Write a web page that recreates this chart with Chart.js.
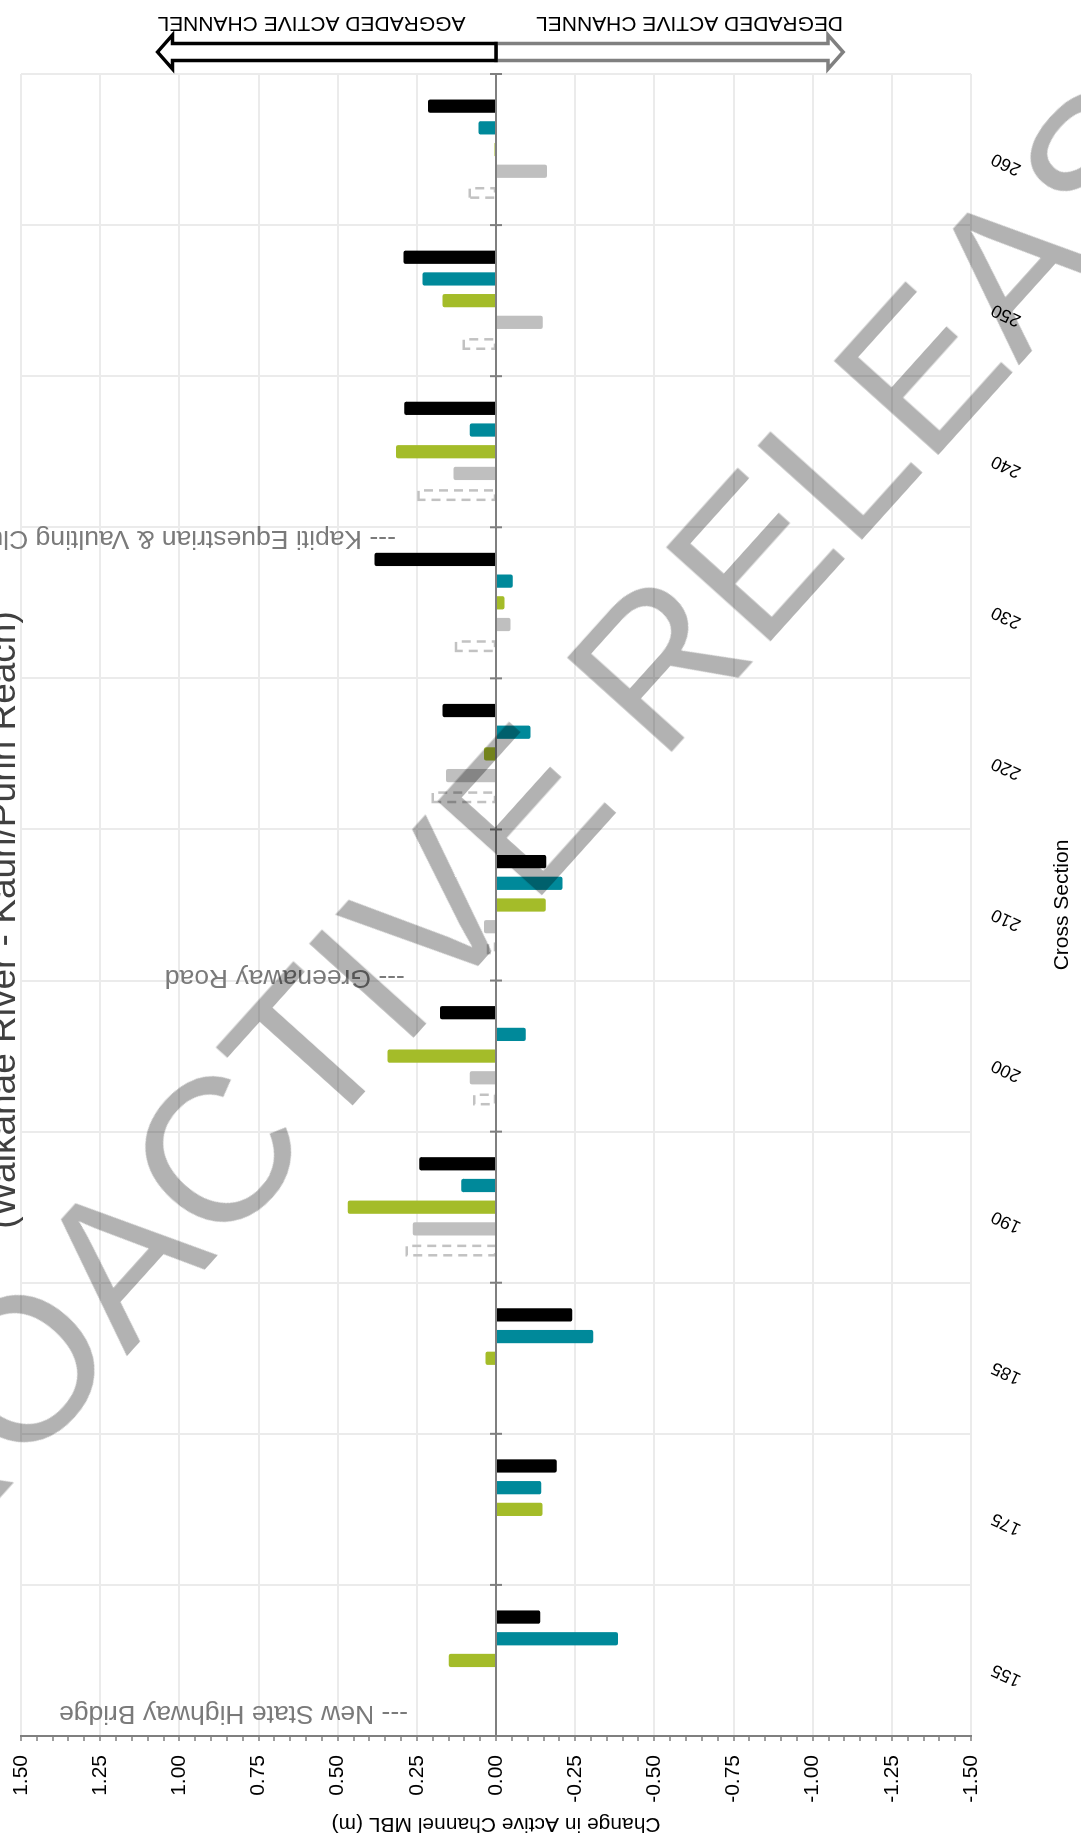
<!DOCTYPE html>
<html>
<head>
<meta charset="utf-8">
<script src="https://cdn.jsdelivr.net/npm/chart.js@4.4.1/dist/chart.umd.min.js"></script>
<style>
html, body { margin: 0; padding: 0; background: #ffffff; overflow: hidden; width: 1081px; height: 1840px; }
#wrap { position: absolute; left: 0; top: 0; width: 1840px; height: 1081px; transform-origin: 0 0; transform: translate(0px, 1840px) rotate(-90deg); }
canvas { display: block; }
#mark { position: absolute; left: 508px; top: 826px; transform: translate(-50%, -50%) rotate(-48deg); font-family: 'Liberation Sans', Arial, sans-serif; font-weight: normal; font-size: 205px; line-height: 1; white-space: nowrap; color: rgba(0, 0, 0, 0.3); pointer-events: none; }
</style>
</head>
<body>
<div id="wrap"><canvas id="c" width="1840" height="1081"></canvas></div>
<div id="mark">PROACTIVE RELEASE</div>
<script>
// ---- data ----
const crossSections = ['155', '175', '185', '190', '200', '210', '220', '230', '240', '250', '260'];
const seriesDashed = [null, null, null, 0.282, 0.069, 0.025, 0.200, 0.126, 0.245, 0.102, 0.083];
const seriesGray   = [null, null, null, 0.263, 0.083, 0.038, 0.158, -0.046, 0.134, -0.148, -0.161];
const seriesGreen  = [0.149, -0.147, 0.033, 0.468, 0.343, -0.157, 0.038, -0.027, 0.316, 0.169, 0.005];
const seriesTeal   = [-0.385, -0.143, -0.307, 0.110, -0.094, -0.210, -0.109, -0.053, 0.083, 0.232, 0.055];
const seriesBlack  = [-0.140, -0.192, -0.241, 0.242, 0.177, -0.159, 0.169, 0.384, 0.290, 0.292, 0.215];
const chartTitle = '(Waikanae River - Kauri/Puriri Reach)';
const landmarkLabels = ['--- New State Highway Bridge', '--- Greenaway Road', '--- Kapiti Equestrian & Vaulting Club'];
const landmarkAt = [-0.35, 4.52, 7.43];        // position along the cross-section axis (category units)
const landmarkFrom = [0.278, 0.288, 0.316];    // value where the label starts
const arrowAggradedTo = 1.069;
const arrowDegradedTo = -1.096;

const FONT = "'Liberation Sans', Arial, Helvetica, sans-serif";

function isMajor(v) {
  const k = Math.round(v * 100);
  return Math.abs(k) % 25 === 0;
}

const overlay = {
  id: 'overlay',
  afterDatasetsDraw(chart) {
    const { ctx, chartArea } = chart;
    const x = chart.scales.x, y = chart.scales.y;
    // dashed outline bars
    const meta = chart.getDatasetMeta(0);
    ctx.save();
    ctx.strokeStyle = '#c2c2c2';
    ctx.lineWidth = 2.5;
    ctx.setLineDash([9, 6]);
    meta.data.forEach((bar, i) => {
      if (seriesDashed[i] == null) return;
      const p = bar.getProps(['x', 'y', 'base', 'width'], true);
      const inset = 1.9;
      const l = p.x - p.width / 2 + inset, r = p.x + p.width / 2 - inset;
      const t = Math.min(p.y, p.base), b = Math.max(p.y, p.base);
      ctx.strokeRect(l, t, r - l, b - t);
    });
    ctx.restore();
    // zero line with crossing category ticks
    const y0 = y.getPixelForValue(0);
    ctx.save();
    ctx.strokeStyle = '#7f7f7f';
    ctx.lineWidth = 2;
    ctx.beginPath();
    ctx.moveTo(chartArea.left, y0);
    ctx.lineTo(chartArea.right, y0);
    ctx.stroke();
    for (let i = 0; i <= crossSections.length; i++) {
      const px = x.getPixelForValue(i - 0.5);
      ctx.beginPath();
      ctx.moveTo(px, y0 - 6);
      ctx.lineTo(px, y0 + 6);
      ctx.stroke();
    }
    ctx.restore();
  },
  afterDraw(chart) {
    const { ctx, chartArea } = chart;
    const x = chart.scales.x, y = chart.scales.y;
    // title (partly cut off at the page edge, as in the reference)
    ctx.save();
    ctx.font = '37px ' + FONT;
    ctx.fillStyle = '#404040';
    ctx.textAlign = 'center';
    ctx.textBaseline = 'alphabetic';
    ctx.fillText(chartTitle, chart.width / 2, 15);
    ctx.restore();
    // landmark labels
    landmarkLabels.forEach((txt, i) => {
      const px = x.getPixelForValue(landmarkAt[i]);
      const py = y.getPixelForValue(landmarkFrom[i]);
      ctx.save();
      ctx.translate(px, py);
      ctx.rotate(-Math.PI / 2);
      ctx.font = '26.5px ' + FONT;
      ctx.fillStyle = '#7a7a7a';
      ctx.textAlign = 'left';
      ctx.textBaseline = 'middle';
      ctx.fillText(txt, 0, 0);
      ctx.restore();
    });
    // arrows
    const cx = chartArea.right + 22;
    const y0 = y.getPixelForValue(0);
    function arrow(tipVal, color) {
      const yt = y.getPixelForValue(tipVal);
      const s = Math.sign(yt - y0);
      const hw = 8.5, hh = 17, hl = 15;
      const hb = yt - s * hl;
      ctx.save();
      ctx.beginPath();
      ctx.moveTo(cx - hw, y0);
      ctx.lineTo(cx - hw, hb);
      ctx.lineTo(cx - hh, hb);
      ctx.lineTo(cx, yt);
      ctx.lineTo(cx + hh, hb);
      ctx.lineTo(cx + hw, hb);
      ctx.lineTo(cx + hw, y0);
      ctx.closePath();
      ctx.fillStyle = '#ffffff';
      ctx.fill();
      ctx.strokeStyle = color;
      ctx.lineWidth = 3.5;
      ctx.lineJoin = 'miter';
      ctx.stroke();
      ctx.restore();
    }
    arrow(arrowDegradedTo, '#808080');
    arrow(arrowAggradedTo, '#000000');
    const tx = chartArea.right + 51;
    ctx.save();
    ctx.font = '21px ' + FONT;
    ctx.fillStyle = '#000000';
    ctx.textBaseline = 'middle';
    ctx.translate(tx, y.getPixelForValue(arrowAggradedTo));
    ctx.rotate(-Math.PI / 2);
    ctx.textAlign = 'right';
    ctx.fillText('AGGRADED ACTIVE CHANNEL', 0, 0);
    ctx.restore();
    ctx.save();
    ctx.font = '21px ' + FONT;
    ctx.fillStyle = '#000000';
    ctx.textBaseline = 'middle';
    ctx.translate(tx, y.getPixelForValue(arrowDegradedTo));
    ctx.rotate(-Math.PI / 2);
    ctx.textAlign = 'left';
    ctx.fillText('DEGRADED ACTIVE CHANNEL', 0, 0);
    ctx.restore();
  }
};

const barCommon = { categoryPercentage: 0.718, barPercentage: 0.61, borderRadius: 2, borderWidth: 0 };

new Chart(document.getElementById('c'), {
  type: 'bar',
  data: {
    labels: crossSections,
    datasets: [
      Object.assign({ label: 'Series 1', data: seriesDashed, backgroundColor: 'rgba(0,0,0,0)' }, barCommon),
      Object.assign({ label: 'Series 2', data: seriesGray, backgroundColor: '#bfbfbf' }, barCommon),
      Object.assign({ label: 'Series 3', data: seriesGreen, backgroundColor: '#a4bc29' }, barCommon),
      Object.assign({ label: 'Series 4', data: seriesTeal, backgroundColor: '#00899a' }, barCommon),
      Object.assign({ label: 'Series 5', data: seriesBlack, backgroundColor: '#000000' }, barCommon)
    ]
  },
  options: {
    responsive: false,
    animation: false,
    devicePixelRatio: 1,
    layout: { padding: { top: 21, right: 74, left: 0, bottom: 0 } },
    plugins: { legend: { display: false }, title: { display: false }, tooltip: { enabled: false } },
    scales: {
      x: {
        afterFit(s) { s.height = 110; },
        ticks: { minRotation: 65, maxRotation: 65, padding: 17, labelOffset: -8, color: '#000000', autoSkip: false, font: { size: 18, family: FONT } },
        grid: { offset: true, color: '#ebebeb', lineWidth: 2, drawTicks: false },
        border: { display: false },
        title: { display: true, text: 'Cross Section', color: '#000000', font: { size: 21, family: FONT }, padding: { top: 0, bottom: 6 } }
      },
      y: {
        min: -1.5,
        max: 1.5,
        afterFit(s) { s.width = 104; s.paddingTop = 0; s.paddingBottom = 0; },
        ticks: {
          stepSize: 0.05,
          autoSkip: false,
          padding: 14,
          color: '#000000',
          font: { size: 21, family: FONT },
          callback: (v) => isMajor(v) ? Number(v).toFixed(2) : ''
        },
        grid: {
          color: (c) => (c.tick && isMajor(c.tick.value)) ? '#ebebeb' : 'rgba(0,0,0,0)',
          lineWidth: 2,
          tickColor: '#7f7f7f',
          tickLength: 5,
          tickWidth: 1.5
        },
        border: { color: '#7f7f7f', width: 2 },
        title: { display: true, text: 'Change in Active Channel MBL (m)', color: '#000000', font: { size: 21, family: FONT }, padding: { top: 4, bottom: 0 } }
      }
    }
  },
  plugins: [overlay]
});
</script>
</body>
</html>
